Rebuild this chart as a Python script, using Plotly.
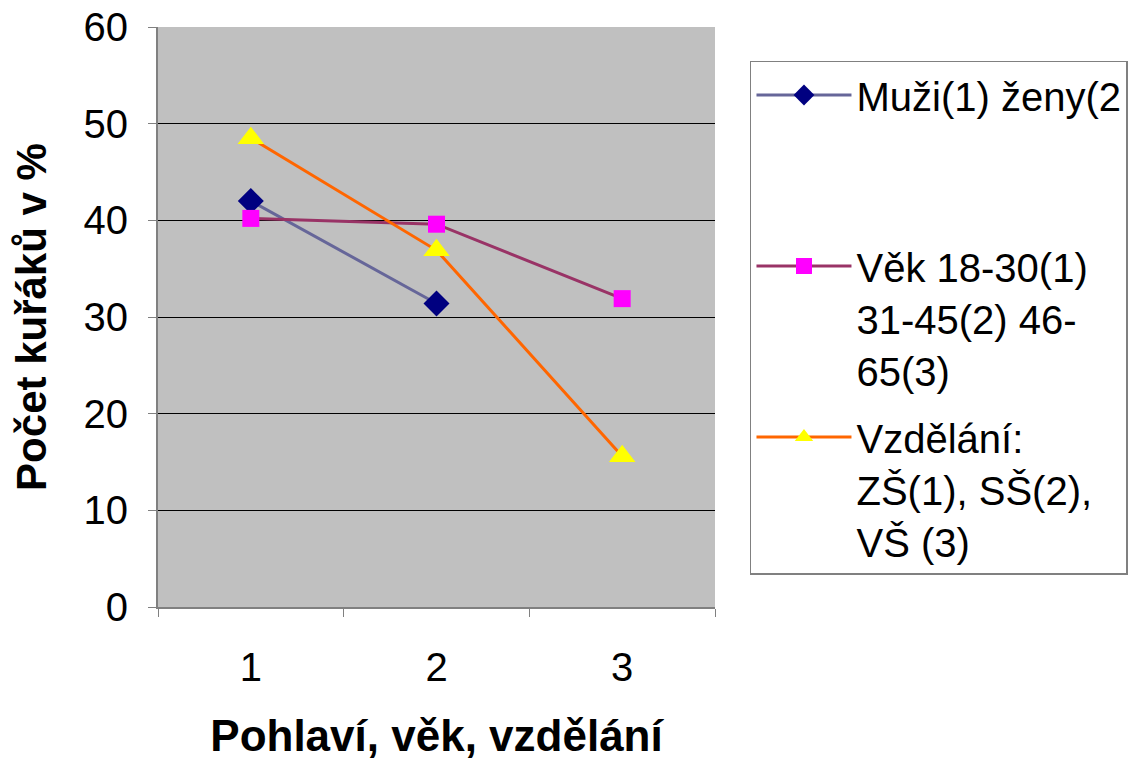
import plotly.graph_objects as go

categories = [1, 2, 3]
muzi = [42.0, 31.4, None]
vek = [40.2, 39.6, 31.9]
vzdelani = [48.5, 36.9, 15.6]
names = ["Muži(1) ženy(2<br> <br> ", "Věk 18-30(1)<br>31-45(2) 46-<br>65(3)", "Vzdělání:<br>ZŠ(1), SŠ(2),<br>VŠ (3)"]
y_ticks = [0, 10, 20, 30, 40, 50, 60]

FONT = "Liberation Sans, Arial, sans-serif"

fig = go.Figure()
fig.add_trace(go.Scatter(x=categories, y=muzi, name=names[0], mode="lines+markers", legendgroup="a",
                         line=dict(color="#666699", width=3),
                         marker=dict(symbol="diamond", size=20, color="#000080", line=dict(width=0))))
fig.add_trace(go.Scatter(x=categories, y=vek, name=names[1], mode="lines+markers", legendgroup="b",
                         line=dict(color="#993366", width=3),
                         marker=dict(symbol="square", size=17, color="#FF00FF", line=dict(width=0))))
fig.add_trace(go.Scatter(x=categories, y=vzdelani, name=names[2], mode="lines+markers", legendgroup="c",
                         line=dict(color="#FF6600", width=3),
                         marker=dict(symbol="triangle-up", size=23, color="#FFFF00", line=dict(width=0))))

fig.update_layout(
    width=1146, height=760,
    margin=dict(l=158, r=431, t=27, b=153, autoexpand=False),
    paper_bgcolor="white", plot_bgcolor="#C0C0C0",
    font=dict(family=FONT, color="black", size=40),
    showlegend=True,
    legend=dict(x=1.0628, y=0.9414, xanchor="left", yanchor="top", valign="top",
                bgcolor="white", bordercolor="#808080", borderwidth=1.5,
                font=dict(size=40, family=FONT, color="black"),
                tracegroupgap=12, traceorder="grouped", itemwidth=95),
)
fig.update_xaxes(range=[0.5, 3.5], tickvals=categories, ticktext=[str(c) for c in categories],
                 ticks="outside", ticklen=0, ticklabelstandoff=24, automargin=False,
                 showline=True, linecolor="#808080", linewidth=2, showgrid=False, zeroline=False,
                 minor=dict(tick0=0.5, dtick=1, ticks="outside", ticklen=8, tickcolor="#808080", showgrid=False),
                 title=dict(text="<b>Pohlaví, věk, vzdělání</b>", font=dict(size=44), standoff=34),
                 tickfont=dict(size=40))
fig.update_yaxes(range=[0, 60], tickvals=y_ticks, ticks="outside", ticklen=8, tickcolor="#808080",
                 ticklabelstandoff=12, automargin=False, ticklabeloverflow="allow",
                 showline=True, linecolor="#808080", linewidth=2,
                 showgrid=True, gridcolor="black", gridwidth=1, zeroline=False,
                 title=dict(text="<b>Počet kuřáků v %</b>", font=dict(size=42), standoff=24),
                 tickfont=dict(size=40))

fig.write_html("out.html", config={"displayModeBar": False},
               post_script="document.body.style.margin='0';")
